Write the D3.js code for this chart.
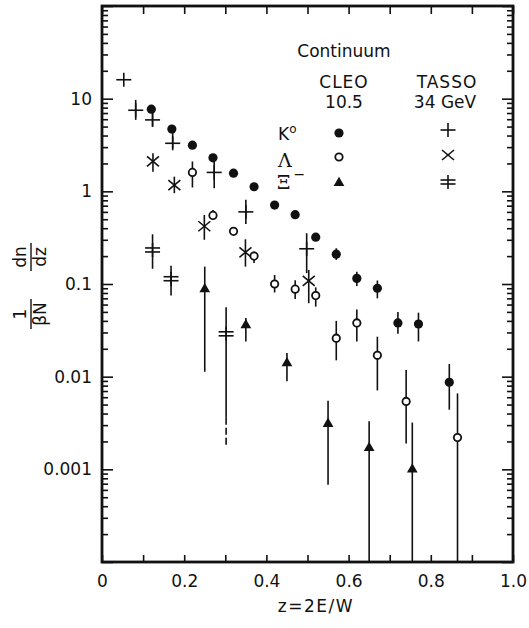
<!DOCTYPE html>
<html>
<head>
<meta charset="utf-8">
<script src="https://cdn.jsdelivr.net/npm/d3@7"></script>
<style>
body { margin: 0; background: #fff; }
text { font-family: "DejaVu Sans", sans-serif; font-size: 17px; fill: #111; }
.serif { font-family: "DejaVu Serif", serif; font-size: 19px; }
</style>
</head>
<body>
<svg id="chart" width="529" height="628"></svg>
<script>
// rows: z, value, lo / hi of the error bar (no lo/hi -> bar hidden under the marker)
const k0Cleo = [
    {z: 0.12, v: 7.7}, {z: 0.17, v: 4.7}, {z: 0.22, v: 3.15}, {z: 0.27, v: 2.3},
    {z: 0.32, v: 1.57}, {z: 0.37, v: 1.12}, {z: 0.42, v: 0.71}, {z: 0.47, v: 0.56},
    {z: 0.52, v: 0.32},
    {z: 0.57, v: 0.21, lo: 0.182, hi: 0.243},
    {z: 0.62, v: 0.115, lo: 0.095, hi: 0.136},
    {z: 0.67, v: 0.09, lo: 0.07, hi: 0.109},
    {z: 0.72, v: 0.038, lo: 0.029, hi: 0.05},
    {z: 0.77, v: 0.037, lo: 0.024, hi: 0.049},
    {z: 0.845, v: 0.0087, lo: 0.0044, hi: 0.0137}
]
const lambdaCleo = [
    {z: 0.22, v: 1.6, lo: 1.1, hi: 2.1},
    {z: 0.27, v: 0.55, lo: 0.49, hi: 0.63},
    {z: 0.32, v: 0.37},
    {z: 0.37, v: 0.2, lo: 0.168, hi: 0.224},
    {z: 0.42, v: 0.1, lo: 0.081, hi: 0.125},
    {z: 0.47, v: 0.088, lo: 0.069, hi: 0.11},
    {z: 0.52, v: 0.075, lo: 0.057, hi: 0.092},
    {z: 0.57, v: 0.026, lo: 0.015, hi: 0.04},
    {z: 0.62, v: 0.038, lo: 0.024, hi: 0.053},
    {z: 0.67, v: 0.017, lo: 0.0071, hi: 0.027},
    {z: 0.74, v: 0.0054, lo: 0.0019, hi: 0.0118},
    {z: 0.865, v: 0.0022, lo: 0.0001, hi: 0.0066}
]
const xiCleo = [
    {z: 0.25, v: 0.088, lo: 0.0113, hi: 0.154},
    {z: 0.35, v: 0.036, lo: 0.024, hi: 0.043},
    {z: 0.45, v: 0.014, lo: 0.0089, hi: 0.018},
    {z: 0.55, v: 0.0031, lo: 0.00068, hi: 0.0055},
    {z: 0.65, v: 0.0017, lo: 0.0001, hi: 0.0033},
    {z: 0.755, v: 0.001, lo: 0.0001, hi: 0.0032}
]
const k0Tasso = [
    {z: 0.053, v: 16},
    {z: 0.082, v: 7.5, lo: 5.9, hi: 9.7},
    {z: 0.123, v: 5.9, lo: 5.0, hi: 7.0},
    {z: 0.172, v: 3.3, lo: 2.9, hi: 4.4},
    {z: 0.273, v: 1.6, lo: 1.08, hi: 2.1},
    {z: 0.35, v: 0.6, lo: 0.445, hi: 0.81},
    {z: 0.498, v: 0.24, lo: 0.131, hi: 0.353}
]
const lambdaTasso = [
    {z: 0.124, v: 2.1, lo: 1.63, hi: 2.58},
    {z: 0.176, v: 1.17, lo: 0.955, hi: 1.44},
    {z: 0.249, v: 0.42, lo: 0.3, hi: 0.556},
    {z: 0.349, v: 0.22, lo: 0.154, hi: 0.304},
    {z: 0.503, v: 0.108, lo: 0.062, hi: 0.142}
]
// last point: lower part of the bar is dashed from 'dash' down
const xiTasso = [
    {z: 0.123, v: 0.233, lo: 0.146, hi: 0.344},
    {z: 0.168, v: 0.114, lo: 0.075, hi: 0.157},
    {z: 0.302, v: 0.029, lo: 0.0018, hi: 0.056, dash: 0.0036}
]

const xTickVals = [0, 0.1, 0.2, 0.3, 0.4, 0.5, 0.6, 0.7, 0.8, 0.9, 1.0]
const xTickText = ['0', '', '0.2', '', '0.4', '', '0.6', '', '0.8', '', '1.0']
const yLabelVals = [10, 1, 0.1, 0.01, 0.001]
const yLabelText = ['10', '1', '0.1', '0.01', '0.001']

const W = 529, H = 628
const margin = {left: 102, right: 16, top: 6, bottom: 66}
const ink = '#111'

const x = d3.scaleLinear().domain([0, 1]).range([margin.left, W - margin.right])
const y = d3.scaleLog().domain([1e-4, 100]).range([H - margin.bottom, margin.top])

const svg = d3.select('#chart')

// ---- axes (ticks point into the frame) ----
const yTicks = y.ticks()
const isMajor = d => Math.abs(Math.log10(d) - Math.round(Math.log10(d))) < 1e-6
const yFmt = d => {
    const i = yLabelVals.findIndex(v => Math.abs(v - d) / v < 1e-6)
    return i < 0 ? '' : yLabelText[i]
}

const gLeft = svg.append('g').attr('transform', 'translate(' + margin.left + ',0)')
    .call(d3.axisLeft(y).tickValues(yTicks).tickSizeInner(-6).tickSizeOuter(0).tickPadding(10).tickFormat(yFmt))
const gRight = svg.append('g').attr('transform', 'translate(' + (W - margin.right) + ',0)')
    .call(d3.axisRight(y).tickValues(yTicks).tickSizeInner(-6).tickSizeOuter(0).tickFormat(''))
gLeft.selectAll('.tick line').filter(isMajor).attr('x2', 11)
gRight.selectAll('.tick line').filter(isMajor).attr('x2', -11)

const xFmt = d => xTickText[xTickVals.indexOf(d)]
svg.append('g').attr('transform', 'translate(0,' + (H - margin.bottom) + ')')
    .call(d3.axisBottom(x).tickValues(xTickVals).tickSizeInner(-7).tickSizeOuter(0).tickPadding(13).tickFormat(xFmt))
svg.append('g').attr('transform', 'translate(0,' + margin.top + ')')
    .call(d3.axisTop(x).tickValues(xTickVals).tickSizeInner(-8).tickSizeOuter(0).tickFormat(''))

svg.selectAll('.domain').remove()
svg.selectAll('.tick line').attr('stroke', ink).attr('stroke-width', 1.6)
svg.selectAll('.tick text').attr('font-size', 17).attr('font-family', '"DejaVu Sans", sans-serif').attr('fill', ink)

svg.append('rect')
    .attr('x', margin.left).attr('y', margin.top)
    .attr('width', W - margin.left - margin.right).attr('height', H - margin.top - margin.bottom)
    .attr('fill', 'none').attr('stroke', ink).attr('stroke-width', 2.8)

// axis titles
svg.append('text').attr('x', 316).attr('y', 612).attr('text-anchor', 'middle')
    .attr('letter-spacing', 1.5).text('z=2E/W')

const yt = svg.append('g').attr('transform', 'translate(31,284) rotate(-90)')
yt.append('text').attr('x', -30).attr('y', -5).attr('text-anchor', 'middle').text('1')
yt.append('line').attr('x1', -45).attr('x2', -15).attr('y1', 0).attr('y2', 0).attr('stroke', ink).attr('stroke-width', 1.4)
yt.append('text').attr('x', -30).attr('y', 15).attr('text-anchor', 'middle').text('βN')
yt.append('text').attr('x', 27).attr('y', -5).attr('text-anchor', 'middle').text('dn')
yt.append('line').attr('x1', 13).attr('x2', 41).attr('y1', 0).attr('y2', 0).attr('stroke', ink).attr('stroke-width', 1.4)
yt.append('text').attr('x', 27).attr('y', 15).attr('text-anchor', 'middle').text('dz')

// ---- markers ----
function seg(g, x1, y1, x2, y2) {
    return g.append('line').attr('x1', x1).attr('y1', y1).attr('x2', x2).attr('y2', y2)
        .attr('stroke', ink).attr('stroke-width', 1.6)
}
function dot(g, cx, cy) {
    g.append('circle').attr('cx', cx).attr('cy', cy).attr('r', 4.6).attr('fill', ink)
}
function ring(g, cx, cy) {
    g.append('circle').attr('cx', cx).attr('cy', cy).attr('r', 3.7)
        .attr('fill', '#fff').attr('stroke', ink).attr('stroke-width', 1.8)
}
function tri(g, cx, cy) {
    g.append('path').attr('d', d3.symbol(d3.symbolTriangle, 50)())
        .attr('transform', 'translate(' + cx + ',' + cy + ')').attr('fill', ink)
}
function plus(g, cx, cy) {
    seg(g, cx - 7.5, cy, cx + 7.5, cy)
    seg(g, cx, cy - 7, cx, cy + 7)
}
function cross(g, cx, cy) {
    seg(g, cx - 6, cy - 5, cx + 6, cy + 5)
    seg(g, cx - 6, cy + 5, cx + 6, cy - 5)
}
function dblPlus(g, cx, cy) {
    seg(g, cx - 7.5, cy - 2, cx + 7.5, cy - 2)
    seg(g, cx - 7.5, cy + 2, cx + 7.5, cy + 2)
    seg(g, cx, cy - 7, cx, cy + 7)
}

function errBars(g, data) {
    data.filter(d => d.hi !== undefined).forEach(d => {
        if (d.dash) {
            seg(g, x(d.z), y(d.hi), x(d.z), y(d.dash))
            seg(g, x(d.z), y(d.dash), x(d.z), y(d.lo)).attr('stroke-dasharray', '7,3')
        } else {
            seg(g, x(d.z), y(d.hi), x(d.z), y(d.lo))
        }
    })
}
function drawSeries(data, mark) {
    const g = svg.append('g')
    errBars(g, data)
    data.forEach(d => mark(g, x(d.z), y(d.v)))
}

drawSeries(xiTasso, dblPlus)
drawSeries(lambdaTasso, cross)
drawSeries(k0Tasso, plus)
drawSeries(xiCleo, tri)
drawSeries(lambdaCleo, ring)
drawSeries(k0Cleo, dot)

// ---- legend ----
const lg = svg.append('g')
lg.append('text').attr('x', 344).attr('y', 57).attr('text-anchor', 'middle').text('Continuum')
lg.append('text').attr('x', 344).attr('y', 88).attr('text-anchor', 'middle').attr('letter-spacing', 1).text('CLEO')
lg.append('text').attr('x', 344).attr('y', 108).attr('text-anchor', 'middle').text('10.5')
lg.append('text').attr('x', 447).attr('y', 88).attr('text-anchor', 'middle').attr('letter-spacing', 1).text('TASSO')
lg.append('text').attr('x', 445).attr('y', 108).attr('text-anchor', 'middle').text('34 GeV')

const k = lg.append('text').attr('x', 278).attr('y', 140)
k.append('tspan').text('K')
k.append('tspan').attr('dy', -7).attr('font-size', 12).text('o')
lg.append('text').attr('class', 'serif').attr('x', 278).attr('y', 167).text('Λ')
const xi = lg.append('text').attr('class', 'serif').attr('x', 277).attr('y', 189)
xi.append('tspan').text('Ξ')
xi.append('tspan').attr('dx', 3).attr('dy', -10).attr('font-size', 14).text('−')

dot(lg, 339, 133)
ring(lg, 339, 157)
tri(lg, 339, 183)
plus(lg, 448, 130)
cross(lg, 448, 155)
dblPlus(lg, 448, 182)
</script>
</body>
</html>
